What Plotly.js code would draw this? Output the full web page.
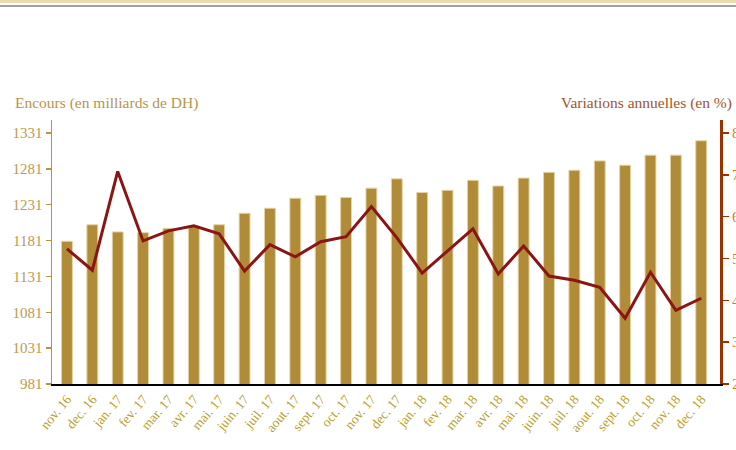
<!DOCTYPE html>
<html>
<head>
<meta charset="utf-8">
<script src="https://cdn.plot.ly/plotly-3.0.1.min.js"></script>
<style>
html,body{margin:0;padding:0;background:#fff;}
#wrap{position:relative;width:736px;height:450px;overflow:hidden;}
#band{position:absolute;left:0;top:0;width:736px;height:3px;background:#e9dcae;}
#rule{position:absolute;left:0;top:5px;width:736px;height:2px;background:#a0a0a0;}
#chart{position:absolute;left:0;top:0;width:736px;height:450px;}
</style>
</head>
<body>
<div id="wrap">
<div id="chart"></div>
<div id="band"></div>
<div id="rule"></div>
</div>
<script>
var categories = ["nov. 16","dec. 16","jan. 17","fev. 17","mar. 17","avr. 17","mai. 17","juin. 17","juil. 17","aout. 17","sept. 17","oct. 17","nov. 17","dec. 17","jan. 18","fev. 18","mar. 18","avr. 18","mai. 18","juin. 18","juil. 18","aout. 18","sept. 18","oct. 18","nov. 18","dec. 18"];
var encours = [1180,1203,1193,1192,1198,1201,1203,1219,1226,1240,1244,1241,1254,1267,1248,1251,1265,1257,1268,1276,1279,1292,1286,1300,1300,1320];
var variations = [5.23,4.72,7.08,5.42,5.66,5.78,5.59,4.70,5.33,5.04,5.40,5.52,6.24,5.50,4.65,5.18,5.71,4.63,5.30,4.58,4.48,4.31,3.57,4.67,3.76,4.05];
var leftTicks = [981,1031,1081,1131,1181,1231,1281,1331];
var rightTicks = [2,3,4,5,6,7,8];

var serif = "Liberation Serif, Times New Roman, serif";

var traces = [
  {type:"bar", x:categories, y:encours, yaxis:"y",
   marker:{color:"#b08b38", line:{color:"#e6d4a4", width:1}},
   width:0.43, hoverinfo:"x+y"},
  {type:"scatter", mode:"lines", x:categories, y:variations, yaxis:"y2",
   line:{color:"#8b1515", width:3}, hoverinfo:"x+y"}
];

var layout = {
  width:736, height:450,
  margin:{l:52, r:16, t:120, b:66, pad:0},
  paper_bgcolor:"rgba(0,0,0,0)", plot_bgcolor:"#fff",
  showlegend:false,
  xaxis:{type:"category", range:[-0.59, 25.74], showgrid:false, zeroline:false,
    showline:true, linecolor:"#000", linewidth:2,
    ticks:"", tickangle:-50,
    tickfont:{family:serif, size:13.5, color:"#b8a02c"}},
  yaxis:{range:[981,1349], tickvals:leftTicks, ticktext:leftTicks.map(String),
    showgrid:false, zeroline:false, showline:true, linecolor:"#b8943e", linewidth:1.5,
    ticks:"outside", ticklen:5, tickcolor:"#b8943e", tickwidth:1.5,
    tickfont:{family:serif, size:15, color:"#c09a4c"}},
  yaxis2:{range:[2,8.31], tickvals:rightTicks, ticktext:rightTicks.map(String),
    overlaying:"y", side:"right", anchor:"x",
    showgrid:false, zeroline:false, showline:true, linecolor:"#9a3300", linewidth:3,
    ticks:"outside", ticklen:6, tickcolor:"#9a3300", tickwidth:1.5,
    tickfont:{family:serif, size:15, color:"#c8823e"}},
  annotations:[
    {text:"Encours (en milliards de DH)", xref:"paper", yref:"paper",
     x:(13-52)/668, y:(384-103)/264, xanchor:"left", yanchor:"middle", showarrow:false,
     font:{family:serif, size:15.5, color:"#b8944a"}},
    {text:"Variations annuelles (en %)", xref:"paper", yref:"paper",
     x:(734-52)/668, y:(384-103)/264, xanchor:"right", yanchor:"middle", showarrow:false,
     font:{family:serif, size:15.5, color:"#a2542a"}}
  ]
};

Plotly.newPlot("chart", traces, layout, {displayModeBar:false, staticPlot:true});
</script>
</body>
</html>
